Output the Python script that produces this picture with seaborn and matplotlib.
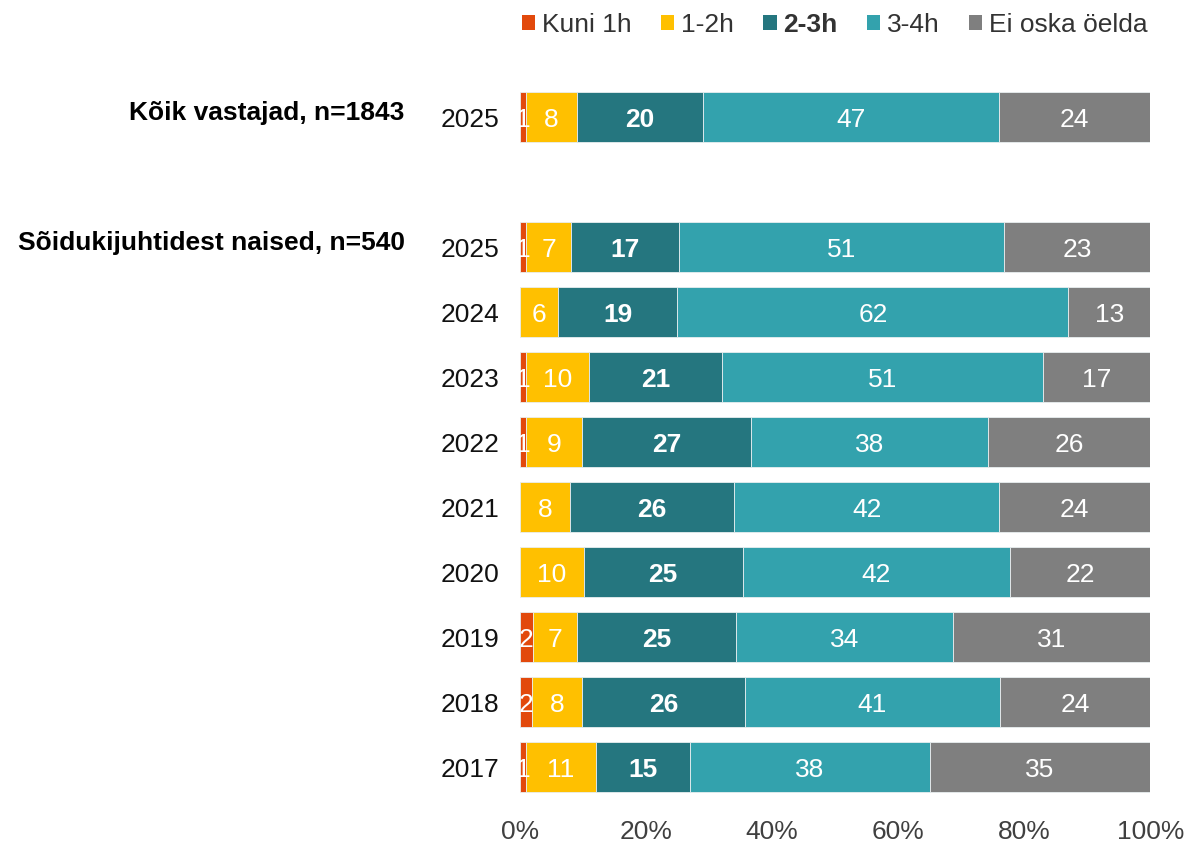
import numpy as np
import matplotlib.pyplot as plt
import seaborn as sns
from matplotlib.patches import Patch
from matplotlib.transforms import blended_transform_factory

# data
years = ["2025", "2025", "2024", "2023", "2022", "2021", "2020", "2019", "2018", "2017"]
groups = ["Kõik vastajad, n=1843", "Sõidukijuhtidest naised, n=540"]
categories = ["Kuni 1h", "1-2h", "2-3h", "3-4h", "Ei oska öelda"]
kuni_1h = [1, 1, 0, 1, 1, 0, 0, 2, 2, 1]
h_1_2 = [8, 7, 6, 10, 9, 8, 10, 7, 8, 11]
h_2_3 = [20, 17, 19, 21, 27, 26, 25, 25, 26, 15]
h_3_4 = [47, 51, 62, 51, 38, 42, 42, 34, 41, 38]
ei_oska = [24, 23, 13, 17, 26, 24, 22, 31, 24, 35]

colors = ["#E2490C", "#FFC000", "#25767F", "#33A2AD", "#7F7F7F"]

sns.set_theme(style="white")
plt.rcParams["font.family"] = ["Liberation Sans", "DejaVu Sans"]

series = np.array([kuni_1h, h_1_2, h_2_3, h_3_4, ei_oska], dtype=float)
shares = series / series.sum(axis=0) * 100
ypos = np.array([0, 2, 3, 4, 5, 6, 7, 8, 9, 10])

fig = plt.figure(figsize=(11.87, 8.44), dpi=100)
ax = fig.add_axes([0.438, 0.0527, 0.531, 0.847])

left = np.zeros(len(years))
for i, cat in enumerate(categories):
    ax.barh(ypos, shares[i], left=left, height=0.77, color=colors[i],
            edgecolor="#E8EEF0", linewidth=0.6, label=cat)
    for y, l, w, v in zip(ypos, left, shares[i], series[i]):
        if v > 0:
            ax.text(l + w / 2, y, f"{int(v)}", ha="center", va="center_baseline",
                    color="white", fontsize=19,
                    fontweight="bold" if cat == "2-3h" else "normal")
    left += shares[i]

ax.set_xlim(0, 100)
ax.set_ylim(10.5, -0.5)
ax.set_yticks(ypos)
ax.set_yticklabels(years, fontsize=19, color="#111111")
ax.set_xticks(np.arange(0, 101, 20))
ax.set_xticklabels([f"{t}%" for t in range(0, 101, 20)], fontsize=19, color="#404040")
ax.tick_params(axis="y", length=0, pad=15)
ax.tick_params(axis="x", length=0, pad=15)
sns.despine(ax=ax, left=True, bottom=True)

trans = blended_transform_factory(ax.transAxes, ax.transData)
ax.text(-0.183, -0.06, groups[0], transform=trans, ha="right", va="center",
        fontsize=19, fontweight="bold", color="black")
ax.text(-0.183, 1.94, groups[1], transform=trans, ha="right", va="center",
        fontsize=19, fontweight="bold", color="black")

handles = [Patch(facecolor=c, edgecolor="none") for c in colors]
leg = fig.legend(handles, categories, loc="upper right", bbox_to_anchor=(0.98, 1.003),
                 ncol=5, frameon=False, fontsize=19, handlelength=0.5,
                 handleheight=0.5, handletextpad=0.25, columnspacing=1.12,
                 borderaxespad=0.2)
for t in leg.get_texts():
    t.set_color("#333333")
    if t.get_text() == "2-3h":
        t.set_fontweight("bold")

fig.savefig("out.png", dpi=100)
